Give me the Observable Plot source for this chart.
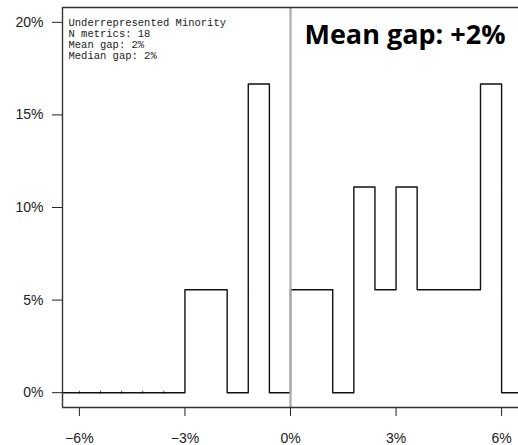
<!DOCTYPE html>
<html><head><meta charset="utf-8">
<script src="https://cdn.jsdelivr.net/npm/d3@7"></script>
<script src="https://cdn.jsdelivr.net/npm/@observablehq/plot@0.6"></script>
<style>
html,body{margin:0;padding:0;background:#fff;overflow:hidden}
svg{display:block}
</style>
</head><body><div id="chart"></div>
<script>
// Histogram bins (gap, %), bin width 0.6 percentage points
const binStarts = [-6.6,-6.0,-5.4,-4.8,-4.2,-3.6,-3.0,-2.4,-1.8,-1.2,-0.6,0.0,0.6,1.2,1.8,2.4,3.0,3.6,4.2,4.8,5.4,6.0];
const binWidth = 0.6;
const shares = [0,0,0,0,0,0,5.56,5.56,0,16.67,0,5.56,5.56,0,11.11,5.56,11.11,5.56,5.56,5.56,16.67,0];
const xTicks = [-6,-3,0,3,6];
const yTicks = [0,5,10,15,20];
const xDomain = [-6.48, 6.48];
const yDomain = [-0.8, 20.8];
const infoLines = ["Underrepresented Minority","N metrics: 18","Mean gap: 2%","Median gap: 2%"];
const headline = "Mean gap: +2%";

const steps = binStarts.map((s,i)=>({x:s, y:shares[i]}));
steps.push({x: binStarts[binStarts.length-1] + binWidth, y: shares[shares.length-1]});

// bin edges lying between two empty bins (small marks on the baseline)
const emptyEdges = binStarts.filter((s,i)=> i>0 && shares[i]===0 && shares[i-1]===0);

const fmtPct = d => (d < 0 ? "\u2212" : "") + Math.abs(d) + "%";

const chart = Plot.plot({
  width: 518,
  height: 445,
  marginLeft: 62,
  marginRight: 0,
  marginTop: 7,
  marginBottom: 38,
  style: {fontFamily: "'Liberation Sans', Arial, sans-serif", fontSize: "14px", color: "#222", background: "#fff"},
  x: {domain: xDomain, ticks: xTicks, tickSize: 9, tickPadding: 17, tickFormat: fmtPct, label: null},
  y: {domain: yDomain, ticks: yTicks, tickSize: 10, tickPadding: 9, tickFormat: d => d + "%", label: null},
  marks: [
    Plot.ruleX(emptyEdges, {x: d => d, y1: -0.08, y2: 0.08, stroke: "#555", strokeWidth: 1, clip: true}),
    Plot.lineY(steps, {x: "x", y: "y", curve: "step-after", stroke: "#111", strokeWidth: 1.4, clip: true}),
    Plot.ruleX([0], {stroke: "#aaa", strokeWidth: 2.2}),
    Plot.ruleX([xDomain[0]], {stroke: "#333", strokeWidth: 1.4}),
    Plot.ruleY([yDomain[0], yDomain[1]], {stroke: "#333", strokeWidth: 1.4}),
    Plot.text([infoLines.join("\n")], {frameAnchor: "top-left", textAnchor: "start", lineAnchor: "top", dx: 6, dy: 11, fontFamily: "'Liberation Mono', 'Courier New', monospace", fontSize: 10.5, lineHeight: 1.05, fill: "#222"}),
    Plot.text([headline], {frameAnchor: "top-right", textAnchor: "end", lineAnchor: "bottom", dx: -13, dy: 36, fontFamily: "'Open Sans', sans-serif", fontWeight: 700, fontSize: 27, fill: "#000"})
  ]
});
document.getElementById("chart").append(chart);
</script>
</body></html>
